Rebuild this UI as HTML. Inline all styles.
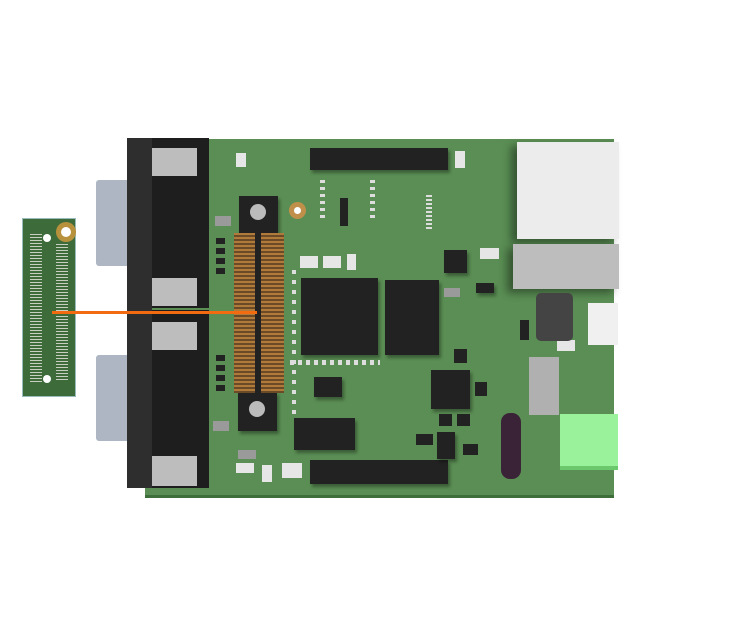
<!DOCTYPE html>
<html><head><style>
body{margin:0;width:744px;height:638px;background:#fff;position:relative;overflow:hidden;font-family:"Liberation Sans",sans-serif}
div{position:absolute;box-sizing:border-box}
.b{background:#222}
.w{background:#e6e6e6}
.g{background:#9a9a9a}
.sh{box-shadow:2px 3px 3px rgba(0,0,0,.35)}
</style></head><body>
<!-- main board -->
<div style="left:145px;top:139px;width:469px;height:359px;background:#5a8e54;border-bottom:3px solid #3e6e3a"></div>
<!-- small board -->
<div style="left:22px;top:218px;width:54px;height:179px;background:#3d6b3a;border:1px solid #9bb"></div>
<div style="left:30px;top:232px;width:12px;height:150px;background:repeating-linear-gradient(#3d6b3a 0 2px,#c9cfc0 2px 3px)"></div>
<div style="left:56px;top:242px;width:12px;height:140px;background:repeating-linear-gradient(#3d6b3a 0 2px,#c9cfc0 2px 3px)"></div>
<div style="left:56px;top:222px;width:20px;height:20px;border-radius:50%;background:#b8913d"></div>
<div style="left:61px;top:227px;width:10px;height:10px;border-radius:50%;background:#fff"></div>
<div style="left:43px;top:234px;width:8px;height:8px;border-radius:50%;background:#fff"></div>
<div style="left:43px;top:375px;width:8px;height:8px;border-radius:50%;background:#fff"></div>
<!-- DB9 shells -->
<div style="left:96px;top:180px;width:34px;height:86px;background:#aeb6c4;border-radius:3px"></div>
<div style="left:96px;top:355px;width:34px;height:86px;background:#aeb6c4;border-radius:3px"></div>
<div class="b" style="left:127px;top:138px;width:82px;height:170px;background:#1e1e1e"></div>
<div class="b" style="left:127px;top:310px;width:82px;height:178px;background:#1e1e1e"></div>
<div style="left:127px;top:138px;width:25px;height:350px;background:#2e2e2e"></div>
<div class="g" style="left:152px;top:148px;width:45px;height:28px;background:#bdbdbd"></div>
<div class="g" style="left:152px;top:278px;width:45px;height:28px;background:#bdbdbd"></div>
<div class="g" style="left:152px;top:322px;width:45px;height:28px;background:#bdbdbd"></div>
<div class="g" style="left:152px;top:456px;width:45px;height:30px;background:#bdbdbd"></div>
<!-- board connector -->
<div class="b sh" style="left:239px;top:196px;width:39px;height:38px"></div>
<div class="b sh" style="left:238px;top:392px;width:39px;height:39px"></div>
<div style="left:250px;top:204px;width:16px;height:16px;border-radius:50%;background:#bbb"></div>
<div style="left:249px;top:401px;width:16px;height:16px;border-radius:50%;background:#bbb"></div>
<div style="left:234px;top:233px;width:50px;height:160px;background:repeating-linear-gradient(#b07a3a 0 2px,#6b4a28 2px 4px)"></div>
<div class="b" style="left:255px;top:232px;width:6px;height:162px"></div>
<div style="left:289px;top:202px;width:17px;height:17px;border-radius:50%;background:#c0904a"></div>
<div style="left:294px;top:207px;width:7px;height:7px;border-radius:50%;background:#fff"></div>
<!-- orange line -->
<div style="left:52px;top:311px;width:205px;height:3px;background:#f26b10"></div>
<!-- headers -->
<div class="b sh" style="left:310px;top:148px;width:138px;height:22px"></div>
<div class="b sh" style="left:310px;top:460px;width:138px;height:24px"></div>
<!-- chips -->
<div class="b sh" style="left:301px;top:278px;width:77px;height:77px"></div>
<div class="b sh" style="left:385px;top:280px;width:54px;height:75px"></div>
<div class="b sh" style="left:431px;top:370px;width:39px;height:39px"></div>
<div class="b sh" style="left:294px;top:418px;width:61px;height:32px"></div>
<div class="b sh" style="left:314px;top:377px;width:28px;height:20px"></div>
<div class="b sh" style="left:444px;top:250px;width:23px;height:23px"></div>
<div class="b sh" style="left:437px;top:432px;width:18px;height:27px"></div>
<div class="b sh" style="left:476px;top:283px;width:18px;height:10px"></div>
<div class="b" style="left:340px;top:198px;width:8px;height:28px"></div>
<div class="b" style="left:454px;top:349px;width:13px;height:14px"></div>
<div class="b" style="left:475px;top:382px;width:12px;height:14px"></div>
<div class="b" style="left:416px;top:434px;width:17px;height:11px"></div>
<div class="b" style="left:463px;top:444px;width:15px;height:11px"></div>
<div class="b" style="left:439px;top:414px;width:13px;height:12px"></div>
<div class="b" style="left:457px;top:414px;width:13px;height:12px"></div>
<div class="b" style="left:520px;top:320px;width:9px;height:20px"></div>
<!-- small pads -->
<div style="left:290px;top:360px;width:90px;height:5px;background:repeating-linear-gradient(90deg,#ddd 0 4px,transparent 4px 8px)"></div>
<div style="left:292px;top:270px;width:4px;height:150px;background:repeating-linear-gradient(#ddd 0 4px,transparent 4px 10px)"></div>
<div style="left:320px;top:180px;width:5px;height:40px;background:repeating-linear-gradient(#ddd 0 3px,transparent 3px 7px)"></div>
<div style="left:370px;top:180px;width:5px;height:40px;background:repeating-linear-gradient(#ddd 0 3px,transparent 3px 7px)"></div>
<div style="left:426px;top:195px;width:6px;height:35px;background:repeating-linear-gradient(#ddd 0 2px,transparent 2px 4px)"></div>
<!-- light pads -->
<div class="w" style="left:236px;top:153px;width:10px;height:14px"></div>
<div class="w" style="left:455px;top:151px;width:10px;height:17px"></div>
<div class="w" style="left:300px;top:256px;width:18px;height:12px"></div>
<div class="w" style="left:323px;top:256px;width:18px;height:12px"></div>
<div class="w" style="left:347px;top:254px;width:9px;height:16px"></div>
<div class="w" style="left:480px;top:248px;width:19px;height:11px"></div>
<div class="g" style="left:444px;top:288px;width:16px;height:9px"></div>
<div class="w" style="left:557px;top:340px;width:18px;height:11px"></div>
<div class="w" style="left:282px;top:463px;width:20px;height:15px"></div>
<div class="w" style="left:236px;top:463px;width:18px;height:10px"></div>
<div class="w" style="left:262px;top:465px;width:10px;height:17px"></div>
<div class="g" style="left:238px;top:450px;width:18px;height:9px"></div>
<div class="g" style="left:215px;top:216px;width:16px;height:10px"></div>
<div class="g" style="left:213px;top:421px;width:16px;height:10px"></div>
<div class="b" style="left:216px;top:238px;width:9px;height:40px;background:repeating-linear-gradient(#222 0 6px,transparent 6px 10px)"></div>
<div class="b" style="left:216px;top:355px;width:9px;height:36px;background:repeating-linear-gradient(#222 0 6px,transparent 6px 10px)"></div>
<!-- USB -->
<div style="left:517px;top:142px;width:102px;height:97px;background:#ececec;box-shadow:-6px 4px 8px rgba(0,0,0,.4)"></div>
<div style="left:513px;top:244px;width:106px;height:45px;background:#bdbdbd;box-shadow:-6px 4px 8px rgba(0,0,0,.4)"></div>
<div style="left:536px;top:293px;width:37px;height:48px;background:#444;border-radius:5px"></div>
<div style="left:588px;top:303px;width:30px;height:42px;background:#f0f0f0"></div>
<div style="left:529px;top:357px;width:30px;height:58px;background:#b0b0b0"></div>
<div style="left:560px;top:414px;width:58px;height:56px;background:#9af29a;border-bottom:4px solid #6cc86c"></div>
<div style="left:501px;top:413px;width:20px;height:66px;background:#3a2336;border-radius:9px"></div>
</body></html>
